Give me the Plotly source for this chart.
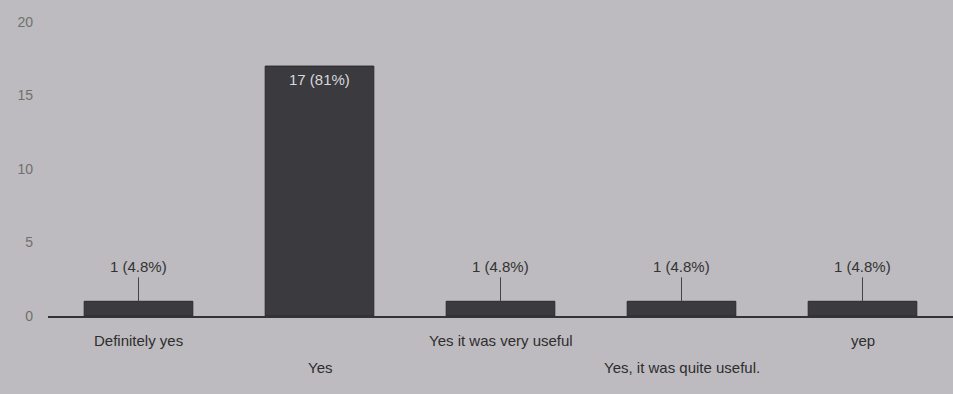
import plotly.graph_objects as go

# survey answers and counts
answers = ['Definitely yes', 'Yes', 'Yes it was very useful',
           'Yes, it was quite useful.', 'yep']
counts = [1, 17, 1, 1, 1]
y_ticks = [0, 5, 10, 15, 20]

total = sum(counts)
labels = []
for c in counts:
    pct = 100 * c / total
    pct_txt = f'{pct:.0f}' if pct >= 10 else f'{pct:.1f}'
    labels.append(f'{c} ({pct_txt}%)')

fig = go.Figure(go.Bar(
    x=answers, y=counts,
    marker=dict(color='#3b3a3f', line=dict(color='#2a292d', width=1)),
    hoverinfo='skip',
))

for i, (a, c, lab) in enumerate(zip(answers, counts, labels)):
    # category labels staggered on two rows like the original
    fig.add_annotation(x=a, y=0, yref='paper', text=a, showarrow=False,
                       yanchor='middle', yshift=-24 if i % 2 == 0 else -51,
                       font=dict(size=15, color='#2e2e2e'))
    if c >= 5:
        fig.add_annotation(x=a, y=c, text=lab, showarrow=False,
                           yanchor='top', yshift=-3,
                           font=dict(color='#d8d8dc', size=15))
    else:
        fig.add_annotation(x=a, y=c, text=lab, showarrow=True,
                           arrowhead=0, arrowwidth=1, arrowcolor='#444',
                           ax=0, ay=-24, yanchor='bottom',
                           font=dict(color='#333', size=15))

fig.update_layout(
    width=953, height=394,
    margin=dict(l=48, r=0, t=22, b=78),
    paper_bgcolor='#bdbbbf', plot_bgcolor='#bdbbbf',
    font=dict(family='Liberation Sans, Arial, sans-serif', color='#333'),
    bargap=0.4,
    showlegend=False,
    xaxis=dict(showticklabels=False, showgrid=False,
               showline=True, linecolor='#333', linewidth=2, ticks=''),
    yaxis=dict(range=[0, 20], tickvals=y_ticks, showgrid=False,
               zeroline=False, ticklabelstandoff=14,
               tickfont=dict(size=14, color='#707070')),
)

fig.write_html("out.html", config={'displayModeBar': False},
               post_script="document.body.style.margin='0';")
